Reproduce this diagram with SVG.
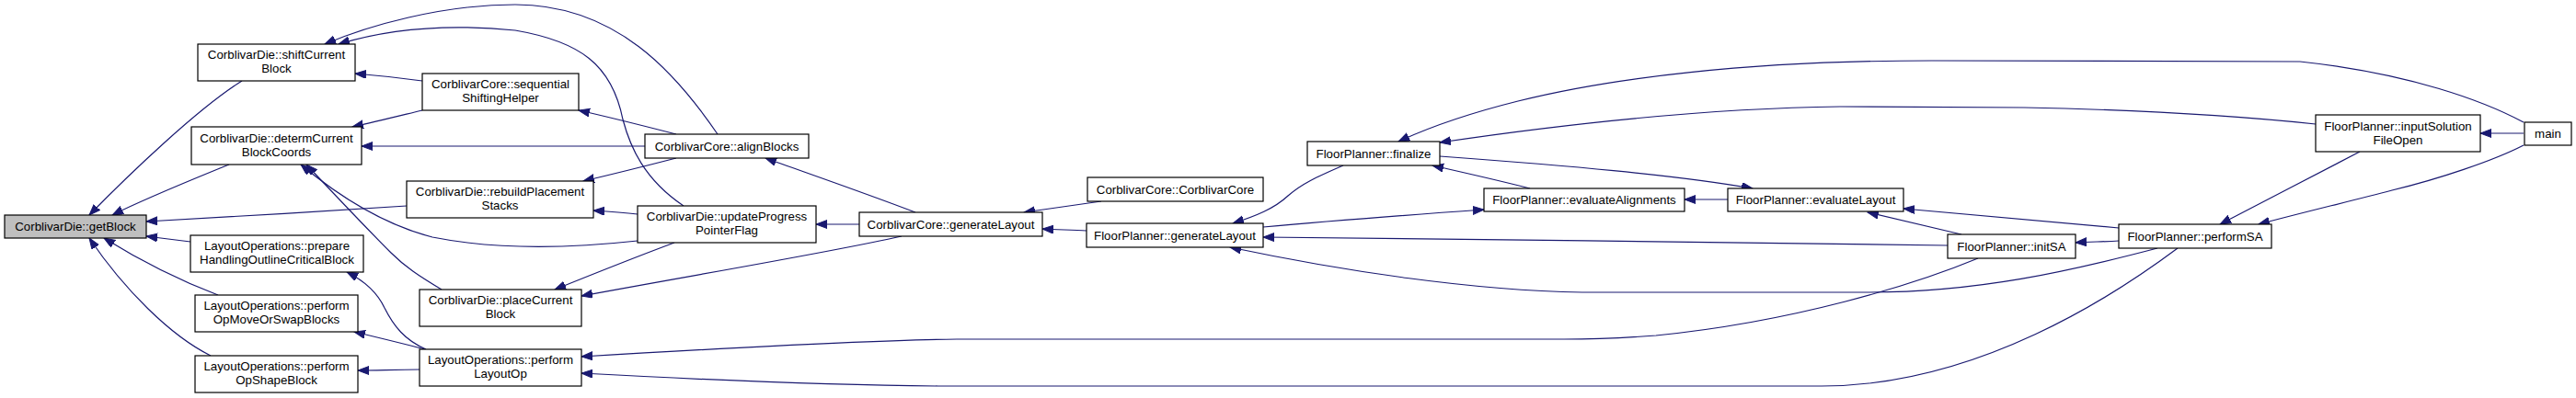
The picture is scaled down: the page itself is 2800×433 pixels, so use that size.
<svg xmlns="http://www.w3.org/2000/svg" width="2800" height="433" viewBox="0 0 2800 433">
<style>
.n rect{fill:#fff;stroke:#000;stroke-width:1.2}
.n.hl rect{fill:#bfbfbf}
.n text{font-family:"Liberation Sans",Arial,sans-serif;font-size:13.3px;fill:#000;text-anchor:middle}
.e path{fill:none;stroke:#191970;stroke-width:1.2;marker-end:url(#ah)}
</style>
<defs>
<marker id="ah" markerUnits="userSpaceOnUse" markerWidth="14" markerHeight="10" viewBox="0 0 14 10" refX="12" refY="4.5" orient="auto">
<path d="M0,0 L12,4.5 L0,9 Z" fill="#191970" stroke="#191970" stroke-width="1"/>
</marker>
</defs>
<rect width="2800" height="433" fill="#fff"/>
<g id="edges" class="e">
<path d="M263,88 C215,118 140,190 97,234"/>
<path d="M249,179 C210,195 160,215 122,234"/>
<path d="M442,224 C350,230 250,236 159,241"/>
<path d="M207,263 C190,261 175,259 159,257"/>
<path d="M237,321 C195,305 150,282 113,259"/>
<path d="M229,387 C185,365 135,315 97,259"/>
<path d="M459,88 C430,84 410,82 386,80"/>
<path d="M459,120 C430,127 410,132 383,138"/>
<path d="M701,159 L393,159"/>
<path d="M780,146 C735,80 670,5 560,5 C480,5 400,28 353,48"/>
<path d="M743,224 C700,195 685,160 677,130 C665,70 630,45 560,33 C480,25 420,32 368,48"/>
<path d="M735,146 C700,137 665,128 629,120"/>
<path d="M735,172 C700,181 668,189 634,197"/>
<path d="M693,233 C675,231 660,230 645,229"/>
<path d="M693,262 C620,270 540,272 470,258 C420,245 370,215 327,179"/>
<path d="M480,315 C455,300 440,290 425,275 C395,245 365,213 333,179"/>
<path d="M733,264 C690,280 645,298 603,315"/>
<path d="M980,257 C900,275 750,300 632,322"/>
<path d="M934,244 L887,244"/>
<path d="M995,231 C940,210 885,191 832,172"/>
<path d="M2150,281 C2080,310 1950,350 1800,365 C1760,368 1740,369 1700,369 L1040,369 C950,370 800,378 632,388"/>
<path d="M2367,270 C2300,320 2150,420 1980,420 L1020,420 C900,419 780,414 632,406"/>
<path d="M463,380 C440,370 428,355 418,335 C410,318 395,305 377,296"/>
<path d="M462,380 C435,373 410,367 385,361"/>
<path d="M456,402 C430,402 410,403 389,403"/>
<path d="M1197,219 C1170,223 1140,227 1113,231"/>
<path d="M1181,251 C1165,250 1150,250 1133,249"/>
<path d="M1460,180 C1430,193 1415,200 1400,213 C1385,227 1365,235 1340,243"/>
<path d="M1373,247 C1450,240 1530,234 1613,228"/>
<path d="M2117,267 C1900,264 1600,260 1373,258"/>
<path d="M2345,270 C2250,295 2150,318 2030,318 L1720,318 C1600,316 1460,295 1337,269"/>
<path d="M1663,205 C1628,196 1592,188 1557,180"/>
<path d="M2743,133 C2700,110 2620,80 2500,67 L2100,66 C1900,66 1750,85 1650,110 C1590,125 1550,140 1520,154"/>
<path d="M2517,135 C2450,128 2350,120 2200,117 L2000,116 C1850,118 1700,135 1565,155"/>
<path d="M1565,170 C1700,180 1820,190 1905,205"/>
<path d="M1878,217 L1831,217"/>
<path d="M2132,255 C2098,247 2064,239 2030,231"/>
<path d="M2303,248 C2225,241 2147,234 2069,227"/>
<path d="M2303,262 C2287,263 2272,263 2256,264"/>
<path d="M2565,165 C2515,191 2463,218 2413,244"/>
<path d="M2743,158 C2710,175 2650,195 2600,207 C2550,220 2500,232 2455,244"/>
<path d="M2743,145 L2696,145"/>
</g>
<g id="getBlock" class="n hl"><rect x="5" y="234" width="154" height="25"/><text x="82" y="251">CorblivarDie::getBlock</text></g>
<g id="shiftCurrentBlock" class="n"><rect x="215" y="48" width="171" height="40"/><text x="300.5" y="64">CorblivarDie::shiftCurrent</text><text x="300.5" y="79">Block</text></g>
<g id="determCurrentBlockCoords" class="n"><rect x="208" y="138" width="185" height="41"/><text x="300.5" y="155">CorblivarDie::determCurrent</text><text x="300.5" y="170">BlockCoords</text></g>
<g id="prepareHandlingOutlineCriticalBlock" class="n"><rect x="207" y="256" width="188" height="40"/><text x="301" y="272">LayoutOperations::prepare</text><text x="301" y="287">HandlingOutlineCriticalBlock</text></g>
<g id="performOpMoveOrSwapBlocks" class="n"><rect x="212" y="321" width="177" height="40"/><text x="300.5" y="337">LayoutOperations::perform</text><text x="300.5" y="352">OpMoveOrSwapBlocks</text></g>
<g id="performOpShapeBlock" class="n"><rect x="212" y="387" width="177" height="40"/><text x="300.5" y="403">LayoutOperations::perform</text><text x="300.5" y="418">OpShapeBlock</text></g>
<g id="sequentialShiftingHelper" class="n"><rect x="459" y="80" width="170" height="40"/><text x="544" y="96">CorblivarCore::sequential</text><text x="544" y="111">ShiftingHelper</text></g>
<g id="alignBlocks" class="n"><rect x="701" y="146" width="178" height="26"/><text x="790" y="163.5">CorblivarCore::alignBlocks</text></g>
<g id="rebuildPlacementStacks" class="n"><rect x="442" y="197" width="203" height="40"/><text x="543.5" y="213">CorblivarDie::rebuildPlacement</text><text x="543.5" y="228">Stacks</text></g>
<g id="updateProgressPointerFlag" class="n"><rect x="693" y="224" width="194" height="40"/><text x="790" y="240">CorblivarDie::updateProgress</text><text x="790" y="255">PointerFlag</text></g>
<g id="placeCurrentBlock" class="n"><rect x="456" y="315" width="176" height="40"/><text x="544" y="331">CorblivarDie::placeCurrent</text><text x="544" y="346">Block</text></g>
<g id="performLayoutOp" class="n"><rect x="456" y="380" width="176" height="40"/><text x="544" y="396">LayoutOperations::perform</text><text x="544" y="411">LayoutOp</text></g>
<g id="CorblivarCore_generateLayout" class="n"><rect x="934" y="231" width="199" height="26"/><text x="1033.5" y="248.5">CorblivarCore::generateLayout</text></g>
<g id="CorblivarCore_CorblivarCore" class="n"><rect x="1182" y="193" width="191" height="26"/><text x="1277.5" y="210.5">CorblivarCore::CorblivarCore</text></g>
<g id="FloorPlanner_generateLayout" class="n"><rect x="1181" y="243" width="192" height="26"/><text x="1277" y="260.5">FloorPlanner::generateLayout</text></g>
<g id="finalize" class="n"><rect x="1421" y="154" width="144" height="26"/><text x="1493" y="171.5">FloorPlanner::finalize</text></g>
<g id="evaluateAlignments" class="n"><rect x="1613" y="205" width="218" height="25"/><text x="1722" y="222">FloorPlanner::evaluateAlignments</text></g>
<g id="evaluateLayout" class="n"><rect x="1878" y="205" width="191" height="25"/><text x="1973.5" y="222">FloorPlanner::evaluateLayout</text></g>
<g id="initSA" class="n"><rect x="2117" y="255" width="139" height="26"/><text x="2186.5" y="272.5">FloorPlanner::initSA</text></g>
<g id="performSA" class="n"><rect x="2303" y="244" width="166" height="26"/><text x="2386" y="261.5">FloorPlanner::performSA</text></g>
<g id="inputSolutionFileOpen" class="n"><rect x="2517" y="125" width="179" height="40"/><text x="2606.5" y="141.5">FloorPlanner::inputSolution</text><text x="2606.5" y="156.5">FileOpen</text></g>
<g id="main" class="n"><rect x="2744" y="133" width="51" height="25"/><text x="2769.5" y="150">main</text></g>
</svg>
